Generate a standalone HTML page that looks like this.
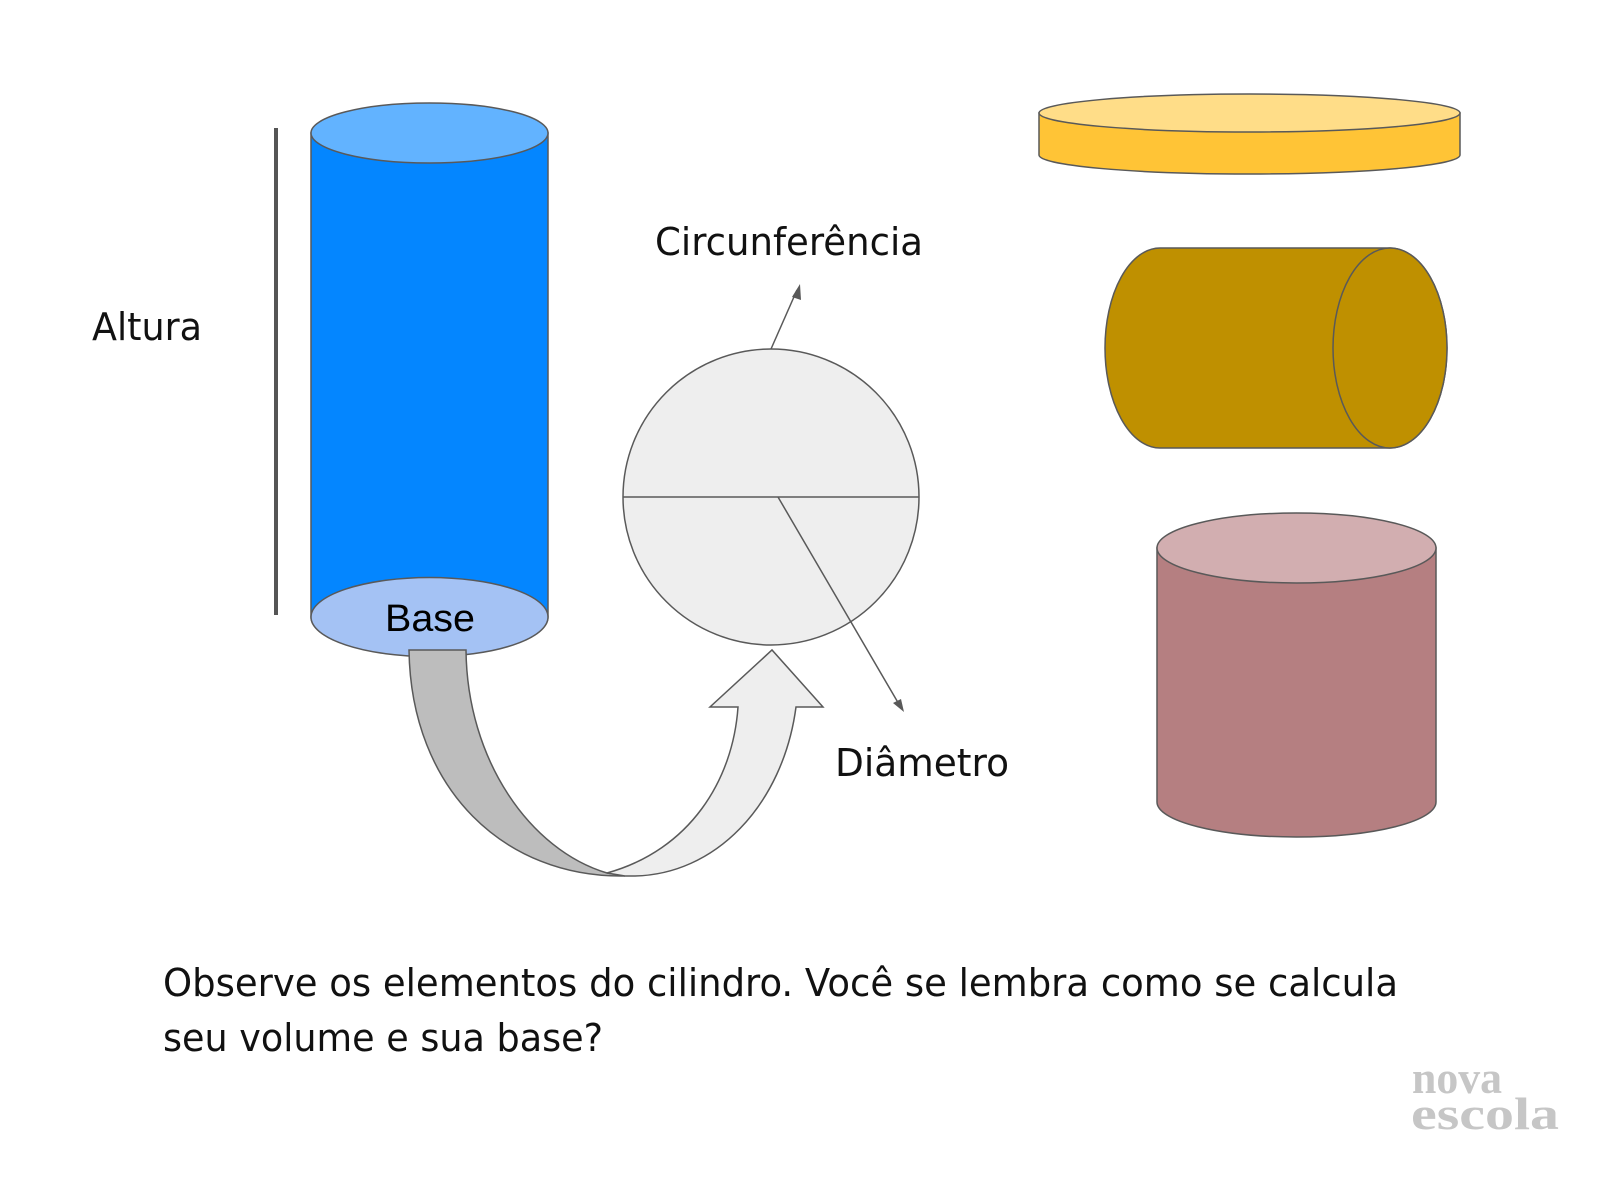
<!DOCTYPE html>
<html><head><meta charset="utf-8"><style>
html,body{margin:0;padding:0;background:#fff;}
svg{display:block;}
</style></head><body>
<svg width="1600" height="1200" viewBox="0 0 1600 1200" xmlns="http://www.w3.org/2000/svg">
<rect width="1600" height="1200" fill="#fff"/>
<g stroke="#595959" stroke-width="1.5">
<path d="M311,133 L311,617 A118.5,39 0 0 0 548,617 L548,133 Z" fill="#0486ff"/>
<ellipse cx="429.5" cy="133" rx="118.5" ry="30" fill="#62b3ff"/>
<ellipse cx="429.5" cy="617" rx="118.5" ry="39.5" fill="#a4c2f4"/>
<line x1="276" y1="128" x2="276" y2="615" stroke="#555" stroke-width="4"/>
<path d="M409,650 L466,650 C467,760 530,850 607,873 L625,876 C505,878 411,790 409,650 Z" fill="#bdbdbd"/>
<path d="M607,873 C690,850 733,780 738,707 L710,707 L772,650 L823,707 L796,707 C783,805 715,876 632,876 L625,876 Z" fill="#eeeeee"/>
<circle cx="771" cy="497" r="148" fill="#eeeeee"/>
<line x1="623" y1="497" x2="919" y2="497"/>
<line x1="778" y1="497" x2="900" y2="706"/>
<line x1="771" y1="349" x2="797" y2="290"/>
<path d="M1039,113 L1039,155 A210.5,19 0 0 0 1460,155 L1460,113 Z" fill="#ffc436"/>
<ellipse cx="1249.5" cy="113" rx="210.5" ry="19" fill="#ffdd88"/>
<path d="M1160,248 L1390,248 A57,100 0 0 1 1390,448 L1160,448 A55,100 0 0 1 1160,248 Z" fill="#bf9000"/>
<ellipse cx="1390" cy="348" rx="57" ry="100" fill="#bf9000"/>
<path d="M1157,548 L1157,802 A139.5,35 0 0 0 1436,802 L1436,548 Z" fill="#b57f81"/>
<ellipse cx="1296.5" cy="548" rx="139.5" ry="35" fill="#d2aeb0"/>
</g>
<polygon points="800,284 792,297 801,300" fill="#595959"/>
<polygon points="904,712 893,703 901,699" fill="#595959"/>
<g font-family="'DejaVu Sans', sans-serif" font-size="38" fill="#111">
<text x="92" y="340" textLength="110" lengthAdjust="spacingAndGlyphs">Altura</text>
<text x="655" y="255" textLength="268" lengthAdjust="spacingAndGlyphs">Circunferência</text>
<text x="835" y="776" textLength="174" lengthAdjust="spacingAndGlyphs">Diâmetro</text>
<text x="163" y="996" textLength="1235" lengthAdjust="spacingAndGlyphs">Observe os elementos do cilindro. Você se lembra como se calcula</text>
<text x="163" y="1051" textLength="440" lengthAdjust="spacingAndGlyphs">seu volume e sua base?</text>
</g>
<text x="385" y="631" font-family="'Liberation Sans', sans-serif" font-size="38" fill="#000" textLength="90" lengthAdjust="spacingAndGlyphs">Base</text>
<g font-family="'Liberation Serif', serif" font-weight="bold" fill="#c6c6c6" font-size="46">
<text x="1412" y="1093" textLength="90" lengthAdjust="spacingAndGlyphs">nova</text>
<text x="1411" y="1129" textLength="148" lengthAdjust="spacingAndGlyphs">escola</text>
</g>
</svg>
</body></html>
